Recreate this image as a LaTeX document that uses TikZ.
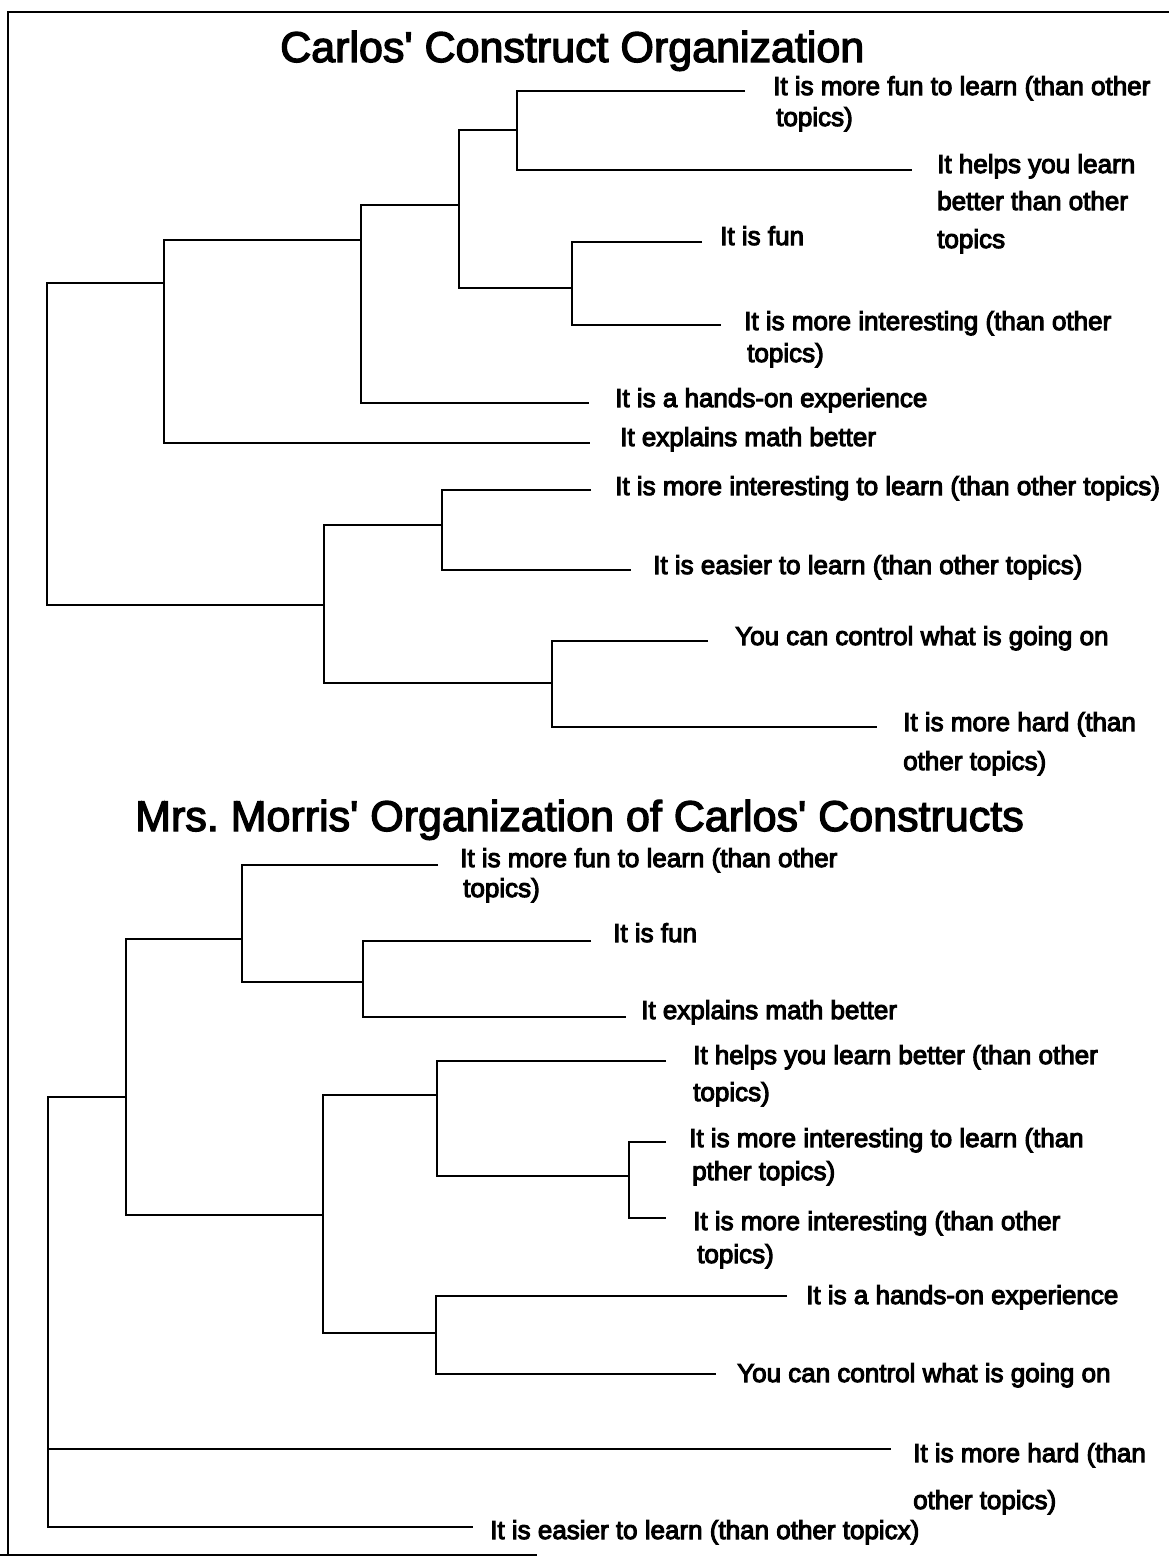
\documentclass[tikz,border=0pt]{standalone}
\usepackage{fontspec}
\newfontfamily\labfont{Liberation Sans}[FakeBold=4, Ligatures=TeXOff]
\newfontfamily\headfont{Liberation Sans}[FakeBold=3, Ligatures=TeXOff]
% parent x, upper child, lower child: a square bracket joining two branches
\newcommand\bracket[3]{\draw[branch] (#2) -- (#2 -| #1) -- (#3 -| #1) -- (#3);}
\frenchspacing
\begin{document}
\begin{tikzpicture}[x=1pt,y=-1pt,
  branch/.style={line width=1.8pt, line join=miter},
  frame/.style={line width=2.3pt},
  leaf/.style={anchor=base west, inner sep=0pt, font=\labfont\fontsize{26}{31}\selectfont},
  heading/.style={anchor=base west, inner sep=0pt, font=\headfont\fontsize{43}{50}\selectfont}]

\useasboundingbox (0,0) rectangle (1169,1558);

% page frame (open on the right)
\coordinate (fTR) at (1169,12);
\coordinate (fTL) at (8,12);
\coordinate (fBL) at (8,1555);
\coordinate (fB0) at (0,1555);
\coordinate (fBR) at (537,1555);
\draw[frame] (fTR) -- (fTL) -- (fBL);
\draw[frame] (fB0) -- (fBR);

% ---------------- Carlos' construct organization ----------------
\node[heading] (title1) at (280,62) {Carlos' Construct Organization};

% junctions (x of the vertical stroke, y where the parent joins)
\coordinate (cR) at (47,444);
\coordinate (cA) at (164,283);
\coordinate (cF) at (324,605);
\coordinate (cB) at (361,240);
\coordinate (cC) at (459,205);
\coordinate (cD) at (517,130);
\coordinate (cE) at (572,288);
\coordinate (cG) at (442,525);
\coordinate (cH) at (552,683);
% free ends of the leaf branches
\coordinate (cl1) at (745,91);
\coordinate (cl2) at (912,170);
\coordinate (cl3) at (702,242);
\coordinate (cl4) at (721,325);
\coordinate (cl5) at (589,403);
\coordinate (cl6) at (590,443);
\coordinate (cl7) at (591,490);
\coordinate (cl8) at (631,570);
\coordinate (cl9) at (708,641);
\coordinate (cl10) at (877,727);

\bracket{cR}{cA}{cF}
\bracket{cA}{cB}{cl6}
\bracket{cB}{cC}{cl5}
\bracket{cC}{cD}{cE}
\bracket{cD}{cl1}{cl2}
\bracket{cE}{cl3}{cl4}
\bracket{cF}{cG}{cH}
\bracket{cG}{cl7}{cl8}
\bracket{cH}{cl9}{cl10}

\node[leaf] (ct1)  at (773,95)  {It is more fun to learn (than other};
\node[leaf] (ct1b) at (776,126) {topics)};
\node[leaf] (ct2)  at (937,173) {It helps you learn};
\node[leaf] (ct2b) at (937,210) {better than other};
\node[leaf] (ct2c) at (937,248) {topics};
\node[leaf] (ct3)  at (720,245) {It is fun};
\node[leaf] (ct4)  at (744,330) {It is more interesting (than other};
\node[leaf] (ct4b) at (747,362) {topics)};
\node[leaf] (ct5)  at (615,407) {It is a hands-on experience};
\node[leaf] (ct6)  at (620,446) {It explains math better};
\node[leaf] (ct7)  at (615,495) {It is more interesting to learn (than other topics)};
\node[leaf] (ct8)  at (653,574) {It is easier to learn (than other topics)};
\node[leaf] (ct9)  at (735,645) {You can control what is going on};
\node[leaf] (ct10) at (903,731) {It is more hard (than};
\node[leaf] (ct10b) at (903,770) {other topics)};

% ---------------- Mrs. Morris' organization ----------------
\node[heading] (title2) at (135,831) {Mrs. Morris' Organization of Carlos' Constructs};

\coordinate (mR) at (48,1300);
\coordinate (mP) at (126,1097);
\coordinate (mQ) at (242,939);
\coordinate (mK) at (363,982);
\coordinate (mS) at (323,1215);
\coordinate (mT) at (437,1095);
\coordinate (mU) at (629,1176);
\coordinate (mV) at (436,1333);
\coordinate (ml1) at (438,865);
\coordinate (ml2) at (591,941);
\coordinate (ml3) at (626,1017);
\coordinate (ml4) at (666,1061);
\coordinate (ml5) at (666,1142);
\coordinate (ml6) at (666,1218);
\coordinate (ml7) at (787,1296);
\coordinate (ml8) at (716,1374);
\coordinate (ml9) at (891,1449);
\coordinate (ml10) at (473,1527);

% root with three branches
\draw[branch] (mP) -- (mP -| mR) -- (ml10 -| mR) -- (ml10);
\draw[branch] (ml9 -| mR) -- (ml9);
\bracket{mP}{mQ}{mS}
\bracket{mQ}{ml1}{mK}
\bracket{mK}{ml2}{ml3}
\bracket{mS}{mT}{mV}
\bracket{mT}{ml4}{mU}
\bracket{mU}{ml5}{ml6}
\bracket{mV}{ml7}{ml8}

\node[leaf] (mt1)  at (460,867)  {It is more fun to learn (than other};
\node[leaf] (mt1b) at (463,897)  {topics)};
\node[leaf] (mt2)  at (613,942)  {It is fun};
\node[leaf] (mt3)  at (641,1019) {It explains math better};
\node[leaf] (mt4)  at (693,1064) {It helps you learn better (than other};
\node[leaf] (mt4b) at (693,1101) {topics)};
\node[leaf] (mt5)  at (689,1147) {It is more interesting to learn (than};
\node[leaf] (mt5b) at (692,1180) {pther topics)};
\node[leaf] (mt6)  at (693,1230) {It is more interesting (than other};
\node[leaf] (mt6b) at (697,1263) {topics)};
\node[leaf] (mt7)  at (806,1304) {It is a hands-on experience};
\node[leaf] (mt8)  at (737,1382) {You can control what is going on};
\node[leaf] (mt9)  at (913,1462) {It is more hard (than};
\node[leaf] (mt9b) at (913,1509) {other topics)};
\node[leaf] (mt10) at (490,1539) {It is easier to learn (than other topicx)};

\end{tikzpicture}
\end{document}
